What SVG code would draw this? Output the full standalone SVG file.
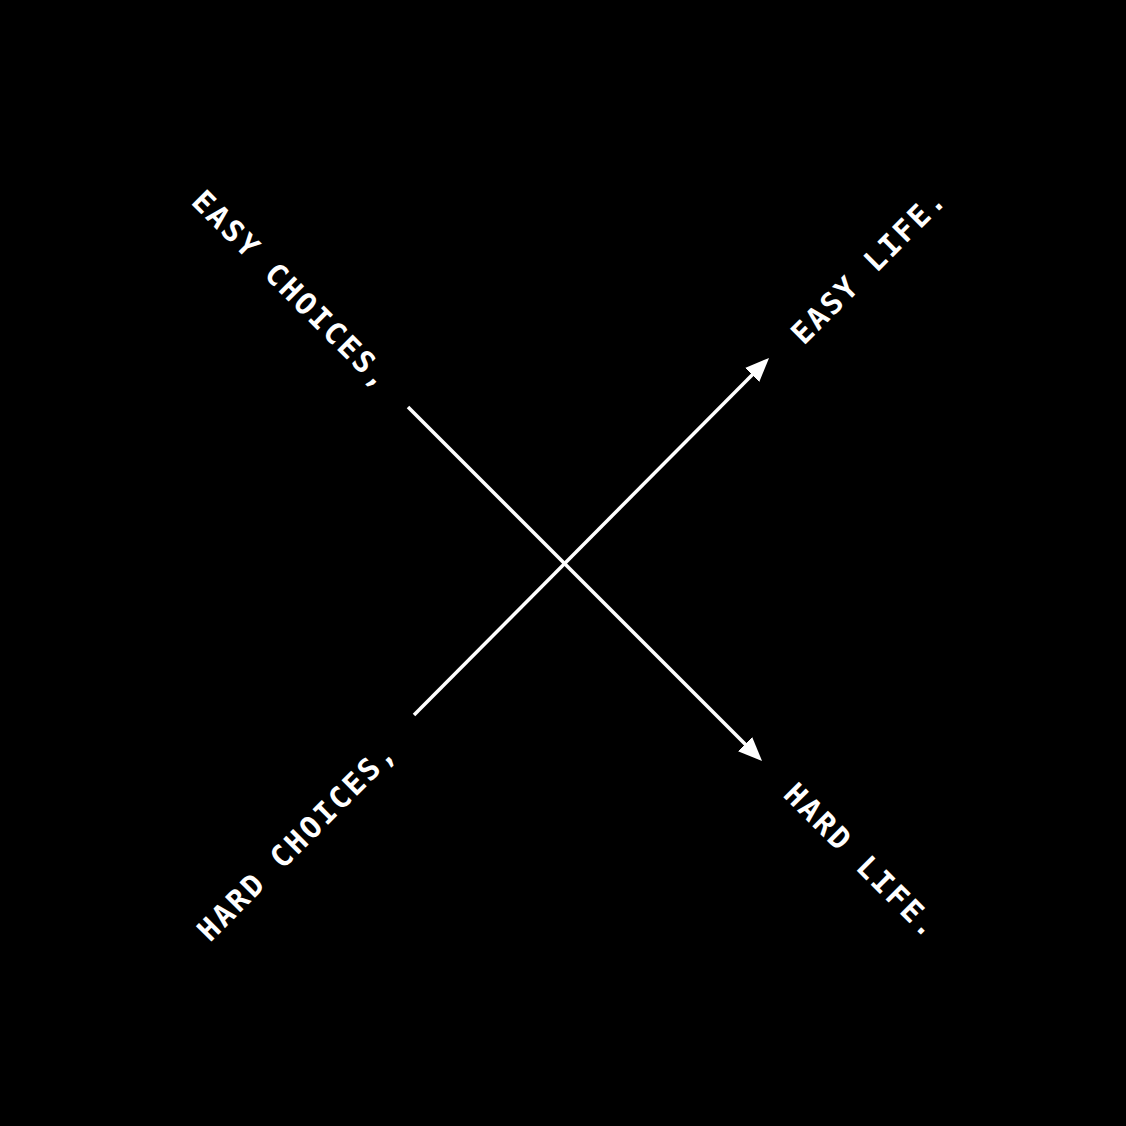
<svg xmlns="http://www.w3.org/2000/svg" width="1126" height="1126" viewBox="0 0 1126 1126">
  <defs>
    <marker id="arrow" markerUnits="userSpaceOnUse" viewBox="0 0 24 20" markerWidth="24" markerHeight="20" refX="14" refY="10" orient="auto">
      <path d="M0,0 L24,10 L0,20 z" fill="#ffffff"/>
    </marker>
    <style>
      .lbl { font-family: "DejaVu Sans Mono", "Liberation Mono", monospace; font-weight: bold; font-size: 30px; fill: #ffffff; letter-spacing: 2.5px; text-anchor: middle; dominant-baseline: central; }
      .conn { stroke: #ffffff; stroke-width: 3.5; fill: none; marker-end: url(#arrow); }
    </style>
  </defs>
  <rect x="0" y="0" width="1126" height="1126" fill="#000000"/>
  <g id="connectors">
    <line class="conn" x1="408" y1="407" x2="755" y2="754"/>
    <line class="conn" x1="414" y1="715" x2="762" y2="365"/>
  </g>
  <g id="easy-choices">
    <text class="lbl" transform="translate(292,290) rotate(45)">EASY CHOICES,</text>
  </g>
  <g id="easy-life">
    <text class="lbl" transform="translate(869,266) rotate(-45)">EASY LIFE.</text>
  </g>
  <g id="hard-choices">
    <text class="lbl" transform="translate(297,841) rotate(-45)">HARD CHOICES,</text>
  </g>
  <g id="hard-life">
    <text class="lbl" transform="translate(862,861) rotate(45)">HARD LIFE.</text>
  </g>
</svg>
